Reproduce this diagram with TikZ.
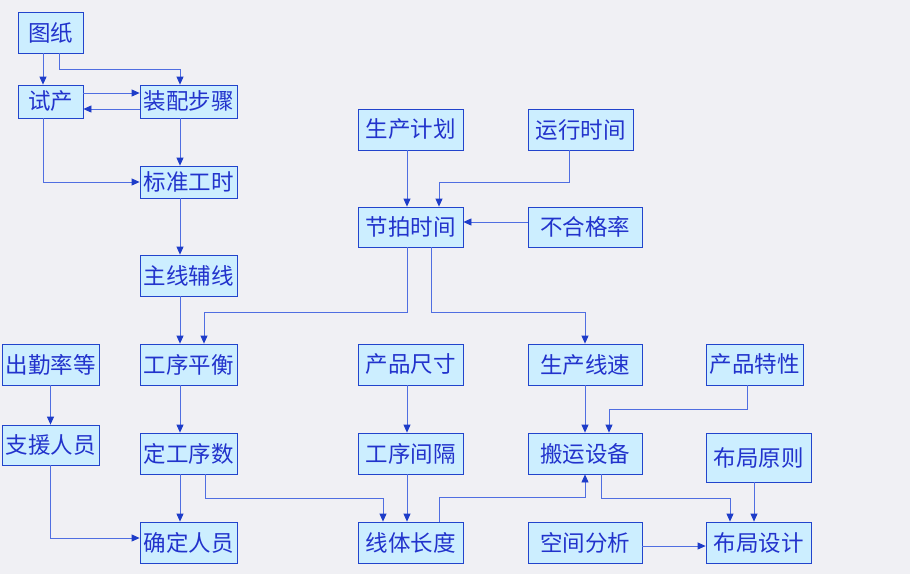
\documentclass[tikz,border=0pt]{standalone}
\usepackage{fontspec}
\setmainfont{Noto Sans CJK SC}
\usepackage{xcolor}
\usepackage{tikz}
\usetikzlibrary{arrows.meta}
\definecolor{bgcol}{RGB}{240,240,244}
\definecolor{boxfill}{RGB}{204,238,255}
\definecolor{boxline}{RGB}{34,68,204}
\definecolor{txtcol}{RGB}{34,51,204}
\definecolor{linkcol}{RGB}{80,110,225}
\definecolor{tipcol}{RGB}{30,60,200}
\tikzset{
    boxnode/.style = {rectangle, draw=boxline, fill=boxfill, text=txtcol, inner sep=0pt, align=center, thick, font=\fontsize{22.5}{22.5}\selectfont},
    narrow/.style = {boxnode, minimum width=65pt, minimum height=41pt},
    mid/.style = {boxnode, minimum width=97pt, minimum height=41pt},
    wide/.style = {boxnode, minimum width=105pt, minimum height=41pt},
    wider/.style = {boxnode, minimum width=114pt, minimum height=41pt},
    link/.style = {->, draw=linkcol, thick}
}

\begin{document}
\begin{tikzpicture}
            [x=1pt, y=-1pt, >={Triangle[length=8pt,width=7pt,color=tipcol]}]

            \useasboundingbox [fill=bgcol] (0,0) rectangle (910,574);

            \node [narrow] (tuzhi) at (50.5,32.5) {图纸};
            \node [narrow, minimum height=33pt] (shichan) at (50.5,101.5) {试产};
            \node [mid, minimum height=33pt] (zhuangpei) at (188.5,101.5) {装配步骤};
            \node [mid, minimum height=32pt] (biaozhun) at (188.5,182) {标准工时};
            \node [mid] (zhuxian) at (188.5,275.5) {主线辅线};
            \node [mid] (pingheng) at (188.5,364.5) {工序平衡};
            \node [mid] (gongxushu) at (188.5,453.5) {定工序数};
            \node [mid] (renyuan) at (188.5,542.5) {确定人员};
            \node [mid] (chuqin) at (50.5,364.5) {出勤率等};
            \node [mid, minimum height=40pt] (zhiyuan) at (50.5,445) {支援人员};

            \node [wide] (jihua) at (410.5,129.5) {生产计划};
            \node [wide] (yunxing) at (580.5,129.5) {运行时间};
            \node [wide, minimum height=40pt] (jiepai) at (410.5,227) {节拍时间};
            \node [wider, minimum height=40pt] (buhege) at (585,227) {不合格率};
            \node [wide] (chicun) at (410.5,364.5) {产品尺寸};
            \node [wide] (jiange) at (410.5,453.5) {工序间隔};
            \node [wide] (changdu) at (410.5,542.5) {线体长度};

            \node [wider] (xiansu) at (585,364.5) {生产线速};
            \node [wider] (banyun) at (585,453.5) {搬运设备};
            \node [wider] (kongjian) at (585,542.5) {空间分析};
            \node [mid] (texing) at (754.5,364.5) {产品特性};
            \node [wide, minimum height=49pt] (yuanze) at (758.5,457.5) {布局原则};
            \node [wide] (sheji) at (758.5,542.5) {布局设计};

            \draw [link] ([xshift=-7.5pt]tuzhi.south) -- ([xshift=-7.5pt]shichan.north);
            \draw [link] ([xshift=8.5pt]tuzhi.south) -- ++(0,16) -| ([xshift=-8.5pt]zhuangpei.north);
            \draw [link] ([yshift=8.5pt]shichan.east) -- ([yshift=8.5pt]zhuangpei.west);
            \draw [link] ([yshift=-7.5pt]zhuangpei.west) -- ([yshift=-7.5pt]shichan.east);
            \draw [link] ([xshift=-7.5pt]shichan.south) |- (biaozhun.west);
            \draw [link] ([xshift=-8.5pt]zhuangpei.south) -- ([xshift=-8.5pt]biaozhun.north);
            \draw [link] ([xshift=-8.5pt]biaozhun.south) -- ([xshift=-8.5pt]zhuxian.north);
            \draw [link] ([xshift=-8.5pt]zhuxian.south) -- ([xshift=-8.5pt]pingheng.north);
            \draw [link] ([xshift=-8.5pt]pingheng.south) -- ([xshift=-8.5pt]gongxushu.north);
            \draw [link] ([xshift=-8.5pt]gongxushu.south) -- ([xshift=-8.5pt]renyuan.north);
            \draw [link] (chuqin.south) -- (zhiyuan.north);
            \draw [link] (zhiyuan.south) |- ([yshift=4.5pt]renyuan.west);
            \draw [link] ([xshift=16.5pt]gongxushu.south) -- ++(0,24) -| ([xshift=-27.5pt]changdu.north);

            \draw [link] ([xshift=-3.5pt]jihua.south) -- ([xshift=-3.5pt]jiepai.north);
            \draw [link] ([xshift=-11.5pt]yunxing.south) -- ++(0,32) -| ([xshift=28.5pt]jiepai.north);
            \draw [link] ([yshift=5pt]buhege.west) -- ([yshift=5pt]jiepai.east);
            \draw [link] ([xshift=-3.5pt]jiepai.south) -- ++(0,65) -| ([xshift=15.5pt]pingheng.north);
            \draw [link] ([xshift=20.5pt]jiepai.south) -- ++(0,65) -| (xiansu.north);
            \draw [link] ([xshift=-3.5pt]chicun.south) -- ([xshift=-3.5pt]jiange.north);
            \draw [link] ([xshift=-3.5pt]jiange.south) -- ([xshift=-3.5pt]changdu.north);
            \draw [link] ([xshift=28.5pt]changdu.north) -- ++(0,-24) -| (banyun.south);

            \draw [link] (xiansu.south) -- (banyun.north);
            \draw [link] ([xshift=-7.5pt]texing.south) -- ++(0,24) -| ([xshift=24pt]banyun.north);
            \draw [link] ([xshift=16pt]banyun.south) -- ++(0,24) -| ([xshift=-28.5pt]sheji.north);
            \draw [link] ([xshift=-4.5pt]yuanze.south) -- ([xshift=-4.5pt]sheji.north);
            \draw [link] ([yshift=-3.5pt]kongjian.east) -- ([yshift=-3.5pt]sheji.west);
        \end{tikzpicture}
\end{document}
